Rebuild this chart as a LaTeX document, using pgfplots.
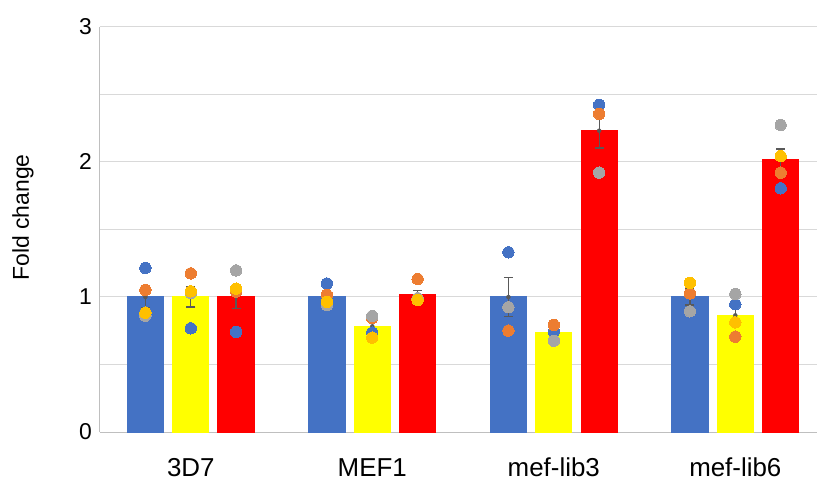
\documentclass[border=0pt]{standalone}
\usepackage{pgfplots}
\pgfplotsset{compat=1.18}
\usepackage{fontspec}
\setmainfont{Liberation Sans}

\definecolor{barblue}{HTML}{4472C4}
\definecolor{baryellow}{HTML}{FFFF00}
\definecolor{barred}{HTML}{FF0000}
\definecolor{dotblue}{HTML}{4472C4}
\definecolor{dotorange}{HTML}{ED7D31}
\definecolor{dotgray}{HTML}{A5A5A5}
\definecolor{dotgold}{HTML}{FFC000}
\definecolor{gridgray}{HTML}{D9D9D9}
\definecolor{axisgray}{HTML}{BFBFBF}
\definecolor{errgray}{HTML}{595959}

\pgfplotsset{
  meanbar/.style={ybar, bar width=0.2, bar shift=0pt, draw=#1, line width=0pt, fill=#1},
  sebars/.style={only marks, mark=none, color=errgray,
    error bars/.cd, y dir=both, y explicit,
    error bar style={draw=errgray, line width=1.3bp},
    error mark options={rotate=90, draw=errgray, line width=1.3bp, mark size=4.5bp}},
  replicate/.style={only marks, mark=*, mark size=5.7bp, color=#1,
    mark options={fill=#1, draw=#1, line width=0pt}},
}

\begin{document}
\begin{tikzpicture}
\begin{axis}[
  scale only axis, width=717bp, height=405bp,
  xmin=-0.5, xmax=3.45, ymin=0, ymax=3,
  xtick={0,1,2,3},
  xticklabels={3D7,MEF1,mef-lib3,mef-lib6},
  ytick={0,1,2,3},
  minor ytick={0.5,1.5,2.5},
  ymajorgrids, yminorgrids,
  major grid style={draw=gridgray, line width=1bp},
  minor grid style={draw=gridgray, line width=1bp},
  major tick length=0pt, minor tick length=0pt,
  axis x line*=bottom, axis y line*=left,
  axis line style={draw=axisgray, line width=1bp},
  yticklabel style={font=\fontsize{23}{27}\selectfont, text=black,
    inner sep=0pt, anchor=east, xshift=-8bp},
  xticklabel style={font=\fontsize{26}{30}\selectfont, text=black,
    inner sep=0pt, anchor=north, yshift=-26bp},
  /pgf/number format/assume math mode=true,
  every axis y label/.style={at={(axis description cs:0,0.5)},
    xshift=-77bp, yshift=12bp, rotate=90, anchor=center,
    font=\fontsize{23}{27}\selectfont},
  ylabel={Fold change},
  clip=false,
]
% group means
\addplot[meanbar=barblue] coordinates {
  (-0.25,1.000) (0.75,1.000) (1.75,1.000) (2.75,1.000)
};
\addplot[meanbar=baryellow] coordinates {
  (0,1.000) (1,0.783) (2,0.735) (3,0.864)
};
\addplot[meanbar=barred] coordinates {
  (0.25,1.003) (1.25,1.022) (2.25,2.232) (3.25,2.015)
};
% standard errors
\addplot[sebars] coordinates {
  (-0.25,1.000) +- (0,0.082)
  (0.75,1.000) +- (0,0.035)
  (1.75,1.000) +- (0,0.143)
  (2.75,1.000) +- (0,0.060)
  (0,1.000) +- (0,0.074)
  (1,0.783) +- (0,0.035)
  (2,0.735) +- (0,0.030)
  (3,0.864) +- (0,0.070)
  (0.25,1.003) +- (0,0.087)
  (1.25,1.022) +- (0,0.025)
  (2.25,2.232) +- (0,0.128)
  (3.25,2.015) +- (0,0.081)
};
% individual replicates
\addplot[replicate=dotblue] coordinates {
  (-0.25,1.215) (0,0.768) (0.25,0.741)
  (0.75,1.100) (1,0.736) (1.25,0.985)
  (1.75,1.331) (2,0.743) (2.25,2.422)
  (3,0.946) (3.25,1.805)
};
\addplot[replicate=dotorange] coordinates {
  (-0.25,1.052) (0,1.175) (0.25,1.040)
  (0.75,1.015) (1,0.845) (1.25,1.133)
  (1.75,0.751) (2,0.793) (2.25,2.356)
  (2.75,1.027) (3,0.706) (3.25,1.921)
};
\addplot[replicate=dotgray] coordinates {
  (-0.25,0.862) (0,1.030) (0.25,1.197)
  (0.75,0.940) (1,0.859) (1.25,0.990)
  (1.75,0.924) (2,0.676) (2.25,1.921)
  (2.75,0.894) (3,1.022) (3.25,2.274)
};
\addplot[replicate=dotgold] coordinates {
  (-0.25,0.884) (0,1.042) (0.25,1.062)
  (0.75,0.965) (1,0.699) (1.25,0.978)
  (2.75,1.104) (3,0.812) (3.25,2.044)
};
\coordinate (bl) at (rel axis cs:0,0);
\coordinate (tr) at (rel axis cs:1,1);
\end{axis}
\pgfresetboundingbox
\path[use as bounding box] (bl) ++(-100bp,-52bp) rectangle ([yshift=27bp]tr);
\end{tikzpicture}
\end{document}
